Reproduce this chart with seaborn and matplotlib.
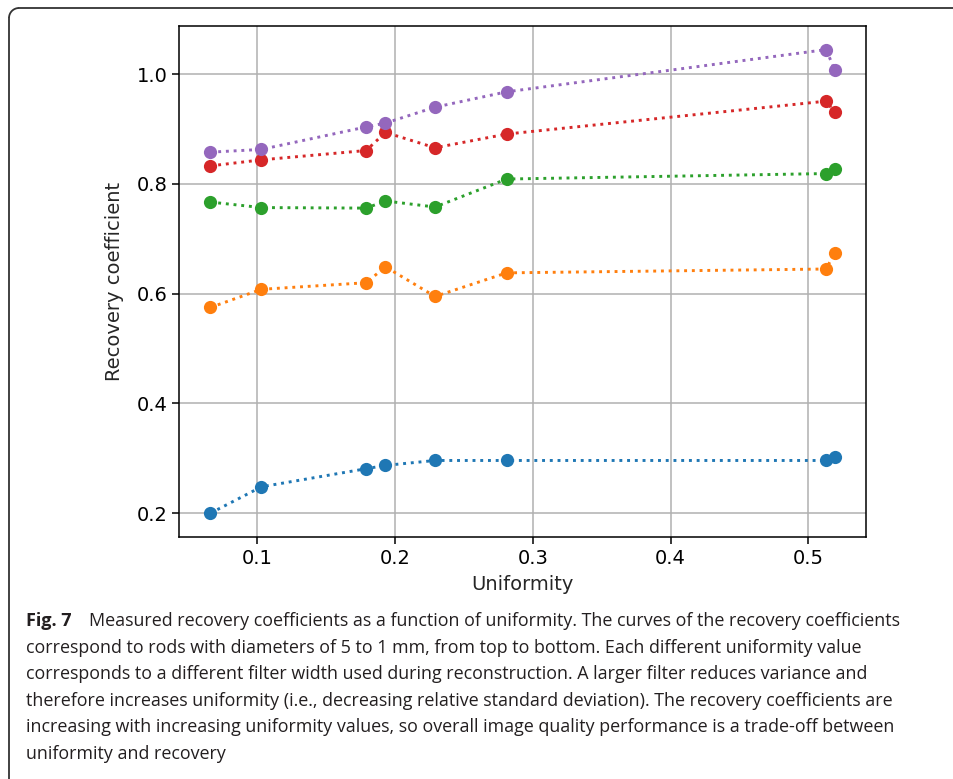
import numpy as np
import pandas as pd
import matplotlib
matplotlib.use("Agg")
import matplotlib.pyplot as plt
from matplotlib.patches import Arc
from matplotlib.lines import Line2D
import seaborn as sns

# uniformity values (one per reconstruction filter width)
uniformity = [0.066, 0.103, 0.179, 0.193, 0.229, 0.281, 0.513, 0.519]

# recovery coefficients per rod diameter
rc_1mm = [0.200, 0.248, 0.281, 0.287, 0.296, 0.296, 0.296, 0.302]
rc_2mm = [0.575, 0.608, 0.620, 0.649, 0.595, 0.638, 0.645, 0.675]
rc_3mm = [0.767, 0.757, 0.756, 0.769, 0.758, 0.809, 0.819, 0.827]
rc_4mm = [0.833, 0.844, 0.861, 0.894, 0.866, 0.891, 0.951, 0.931]
rc_5mm = [0.858, 0.863, 0.904, 0.911, 0.940, 0.968, 1.045, 1.008]

rods = ["1 mm", "2 mm", "3 mm", "4 mm", "5 mm"]
series = [rc_1mm, rc_2mm, rc_3mm, rc_4mm, rc_5mm]

df = pd.concat([pd.DataFrame({"Uniformity": uniformity, "RC": vals, "rod": r})
                for r, vals in zip(rods, series)], ignore_index=True)

sns.set_style("ticks")
plt.rcParams['font.family'] = ['DejaVu Sans']

fig = plt.figure(figsize=(9.54, 7.79), dpi=100)
ax = fig.add_axes([0.188, 0.3103, 0.7197, 0.6567])

sns.lineplot(data=df, x="Uniformity", y="RC", hue="rod", hue_order=rods,
             palette=sns.color_palette("tab10", 5), marker="o", markersize=9.5,
             markeredgewidth=0, linestyle=":", linewidth=2.1, legend=False, ax=ax)

ax.set_xlim(0.0434, 0.5418)
ax.set_ylim(0.156, 1.0885)
ax.set_xticks([0.1, 0.2, 0.3, 0.4, 0.5])
ax.set_yticks([0.2, 0.4, 0.6, 0.8, 1.0])
ax.grid(True, color="#b0b0b0", linewidth=1.1)
ax.set_axisbelow(True)
for s in ax.spines.values():
    s.set_visible(True)
    s.set_linewidth(1.1)
    s.set_color("black")
ax.tick_params(labelsize=14, length=4.8, width=1.1, color="black", labelcolor="black")
ax.set_xlabel("Uniformity", fontsize=14, labelpad=5)
ax.set_ylabel("Recovery coefficient", fontsize=14, labelpad=9)

# frame (top + left edge with rounded corner), in pixel units
W, H = 954, 779
fx, fy, r = 9, 8, 10
kw = dict(color="#333333", linewidth=1.3)
fig.add_artist(Line2D([(fx + r) / W, 1.0], [1 - fy / H, 1 - fy / H],
                      transform=fig.transFigure, **kw))
fig.add_artist(Line2D([fx / W, fx / W], [0.0, 1 - (fy + r) / H],
                      transform=fig.transFigure, **kw))
fig.add_artist(Arc(((fx + r) / W, 1 - (fy + r) / H), 2 * r / W, 2 * r / H,
                   theta1=90, theta2=180, transform=fig.transFigure,
                   edgecolor="#333333", linewidth=1.3))

caption = [
    "Measured recovery coefficients as a function of uniformity. The curves of the recovery coefficients",
    "correspond to rods with diameters of 5 to 1 mm, from top to bottom. Each different uniformity value",
    "corresponds to a different filter width used during reconstruction. A larger filter reduces variance and",
    "therefore increases uniformity (i.e., decreasing relative standard deviation). The recovery coefficients are",
    "increasing with increasing uniformity values, so overall image quality performance is a trade-off between",
    "uniformity and recovery",
]
cap_font = ['Open Sans', 'DejaVu Sans']
cap_color = "#231f20"
y0 = 621
for i, line in enumerate(caption):
    yy = 1 - (y0 + i * 26.6) / H
    if i == 0:
        fig.text(26 / W, yy, "Fig. 7", fontsize=13, fontweight="bold",
                 family=cap_font, va="center", ha="left", color=cap_color)
        fig.text(89 / W, yy, line, fontsize=12.9, family=cap_font,
                 va="center", ha="left", color=cap_color)
    else:
        fig.text(26 / W, yy, line, fontsize=12.9, family=cap_font,
                 va="center", ha="left", color=cap_color)

fig.savefig("out.png", dpi=100)
